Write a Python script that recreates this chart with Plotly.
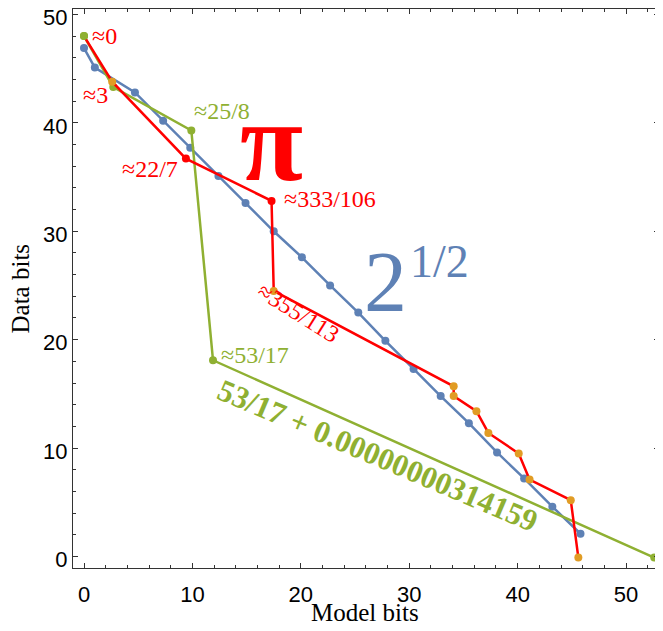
import plotly.graph_objects as go

# ---- data ----
sqrt2_x = [0.0, 1.0, 4.7, 7.3, 9.8, 12.4, 14.9, 17.5, 20.1, 22.7, 25.3, 27.8, 30.4, 32.9, 35.5, 38.1, 40.6, 43.2, 45.8]
sqrt2_y = [46.9, 45.1, 42.8, 40.2, 37.7, 35.1, 32.6, 30.0, 27.6, 25.0, 22.5, 19.9, 17.3, 14.8, 12.3, 9.6, 7.2, 4.6, 2.1]

pi_x = [0.0, 2.6, 9.4, 17.3, 17.5, 34.1, 34.1, 36.2, 37.3, 40.1, 41.1, 44.9, 45.6]
pi_y = [48.0, 43.8, 36.7, 32.8, 24.5, 15.7, 14.8, 13.4, 11.4, 9.5, 7.1, 5.2, -0.1]
pi_marker_kind = ["green", "orange", "red", "red", "orange", "orange", "orange", "orange", "orange", "orange", "orange", "orange", "orange"]

g_x = [0.0, 2.7, 9.9, 11.9, 52.6]
g_y = [48.0, 43.3, 39.3, 18.1, -0.1]

BLUE = "#5E81B5"
GREEN = "#8FB032"
RED = "#FF0000"
ORANGE = "#E19C24"
marker_colors = {"red": RED, "orange": ORANGE, "green": GREEN}

fig = go.Figure()
fig.add_trace(go.Scatter(x=sqrt2_x, y=sqrt2_y, mode="lines+markers",
                         line=dict(color=BLUE, width=2.5),
                         marker=dict(color=BLUE, size=8)))
fig.add_trace(go.Scatter(x=g_x, y=g_y, mode="lines+markers",
                         line=dict(color=GREEN, width=2.5),
                         marker=dict(color=GREEN, size=8)))
fig.add_trace(go.Scatter(x=pi_x, y=pi_y, mode="lines",
                         line=dict(color=RED, width=2.5)))
fig.add_trace(go.Scatter(x=pi_x, y=pi_y, mode="markers",
                         marker=dict(color=[marker_colors[k] for k in pi_marker_kind], size=8)))

SERIF = "Liberation Serif"
def ann(text, x, y, color, size, angle=0, bold=False):
    if bold:
        text = "<b>" + text + "</b>"
    fig.add_annotation(x=x, y=y, xref="x", yref="y", text=text, showarrow=False,
                       textangle=angle, font=dict(family=SERIF, size=size, color=color))

ann("≈0", 1.85, 48.0, RED, 24)
ann("≈3", 1.1, 42.6, RED, 24)
ann("≈25/8", 12.7, 41.1, GREEN, 24)
ann("≈22/7", 6.1, 35.7, RED, 24)
ann("π", 17.3, 38.3, RED, 115, bold=True)
ann("≈333/106", 22.7, 33.0, RED, 24)
ann("2", 27.8, 25.3, BLUE, 86)
ann("1/2", 32.8, 27.2, BLUE, 46)
ann("≈355/113", 19.8, 22.5, RED, 24, angle=32)
ann("≈53/17", 15.8, 18.6, GREEN, 24)
ann("53/17 + 0.00000000314159", 27.1, 9.36, GREEN, 31, angle=23, bold=True)

# axis titles
fig.add_annotation(x=0.498, y=0, xref="paper", yref="paper", yanchor="middle", yshift=-44,
                   text="Model bits", showarrow=False, font=dict(family=SERIF, size=25, color="black"))
fig.add_annotation(x=0, y=0.5, xref="paper", yref="paper", xanchor="center", xshift=-53,
                   text="Data bits", textangle=-90, showarrow=False, font=dict(family=SERIF, size=25, color="black"))

FRAME = "#333333"
axis_common = dict(showline=True, linecolor=FRAME, linewidth=1, mirror="ticks",
                   ticks="inside", ticklen=5, tickcolor=FRAME, showgrid=False, zeroline=False,
                   dtick=10, tick0=0, automargin=False, ticklabeloverflow="allow",
                   tickfont=dict(family="Liberation Sans", size=22, color="black"),
                   minor=dict(ticks="inside", ticklen=3, dtick=2, tickcolor=FRAME, showgrid=False))

fig.update_xaxes(range=[-1.015, 53.04], ticklabelstandoff=7, **axis_common)
fig.update_yaxes(range=[-1.06, 50.5], ticklabelshift=3, **axis_common)

# the page places the figure 8px from the window's top-left corner
fig.update_layout(width=655, height=623, margin=dict(l=65, r=4, t=1, b=63),
                  plot_bgcolor="white", paper_bgcolor="white", showlegend=False)

fig.write_html("out.html")
